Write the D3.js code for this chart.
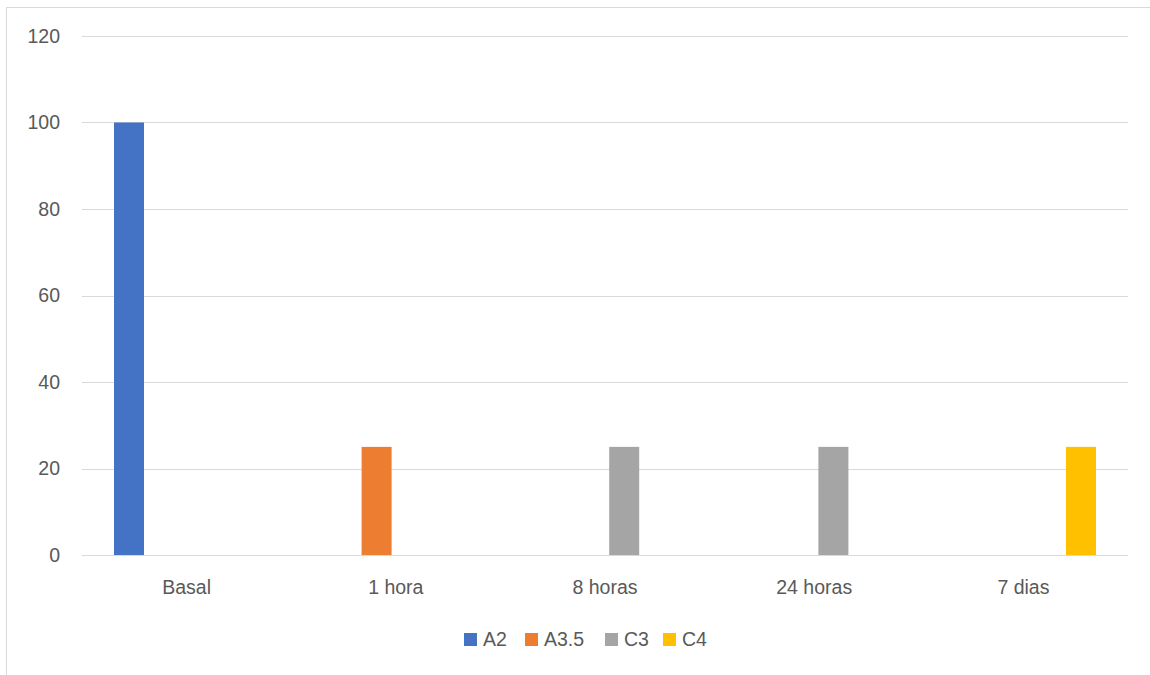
<!DOCTYPE html>
<html><head><meta charset="utf-8">
<script src="https://cdn.jsdelivr.net/npm/d3@7"></script>
<style>body{margin:0;background:#fff;} svg{display:block;}</style>
</head><body>
<svg id="c" width="1150" height="675"></svg>
<script>
const categories = ["Basal", "1 hora", "8 horas", "24 horas", "7 dias"];
const seriesNames = ["A2", "A3.5", "C3", "C4"];
const A2   = [100, 0, 0, 0, 0];
const A3_5 = [0, 25, 0, 0, 0];
const C3   = [0, 0, 25, 25, 0];
const C4   = [0, 0, 0, 0, 25];
const yTicks = [0, 20, 40, 60, 80, 100, 120];
const colors = ["#4472C4", "#ED7D31", "#A5A5A5", "#FFC000"];

(function () {
const seriesData = [A2, A3_5, C3, C4];
const svg = d3.select("#c");
const font = "'Liberation Sans', Arial, sans-serif";
const textColor = "#595959";
const fs = 19.5;

// chart border
svg.append("rect").attr("x", 6.5).attr("y", 7.5).attr("width", 1160).attr("height", 700)
  .attr("fill", "none").attr("stroke", "#d9d9d9").attr("stroke-width", 1);

const pLeft = 82, pRight = 1128, pTop = 36, pBottom = 555;
const x = d3.scaleBand().domain(categories).range([pLeft, pRight]).paddingInner(0).paddingOuter(0);
const y = d3.scaleLinear().domain([0, 120]).range([pBottom, pTop]);
const slot = 38.4, barW = 30;
const xs = d3.scaleBand().domain(seriesNames).range([-2 * slot, 2 * slot]);

// gridlines
svg.append("g").selectAll("line").data(yTicks).join("line")
  .attr("x1", pLeft).attr("x2", pRight)
  .attr("y1", d => Math.round(y(d)) + 0.5).attr("y2", d => Math.round(y(d)) + 0.5)
  .attr("stroke", "#d9d9d9").attr("stroke-width", 1);

// y tick labels
svg.append("g").selectAll("text").data(yTicks).join("text")
  .attr("x", 60).attr("y", d => y(d)).attr("dy", "0.35em")
  .attr("text-anchor", "end").attr("font-family", font).attr("font-size", fs)
  .attr("fill", textColor).text(d => d);

// bars
seriesData.forEach((vals, si) => {
  svg.append("g").selectAll("rect").data(vals.map((v, i) => ({v, c: categories[i]})).filter(d => d.v > 0))
    .join("rect")
    .attr("x", d => x(d.c) + x.bandwidth() / 2 + xs(seriesNames[si]) + xs.bandwidth() / 2 - barW / 2)
    .attr("width", barW)
    .attr("y", d => y(d.v))
    .attr("height", d => y(0) - y(d.v))
    .attr("fill", colors[si]);
});

// x labels
svg.append("g").selectAll("text").data(categories).join("text")
  .attr("x", d => x(d) + x.bandwidth() / 2).attr("y", 587).attr("dy", "0.35em")
  .attr("text-anchor", "middle").attr("font-family", font).attr("font-size", fs)
  .attr("fill", textColor).text(d => d);

// legend
const legendX = [464, 525, 605, 663];
const lg = svg.append("g");
seriesNames.forEach((n, i) => {
  lg.append("rect").attr("x", legendX[i]).attr("y", 633).attr("width", 13).attr("height", 13).attr("fill", colors[i]);
  lg.append("text").attr("x", legendX[i] + 19).attr("y", 639.5).attr("dy", "0.35em")
    .attr("font-family", font).attr("font-size", fs).attr("fill", textColor).text(n);
});
})();
</script>
</body></html>
